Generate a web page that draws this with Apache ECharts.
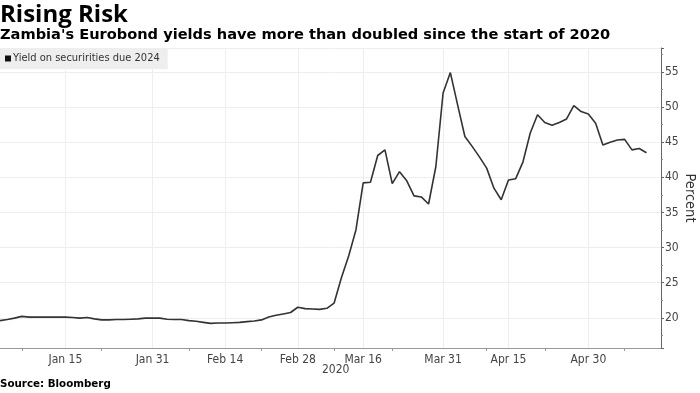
<!DOCTYPE html>
<html><head><meta charset="utf-8">
<script src="https://cdn.jsdelivr.net/npm/echarts@6/dist/echarts.min.js"></script>
<style>html,body{margin:0;padding:0;background:#fff}#c{width:700px;height:393px}</style>
</head><body><div id="c"></div>
<script>
const titleText = "Rising Risk";
const subtitleText = "Zambia's Eurobond yields have more than doubled since the start of 2020";
const seriesName = "Yield on securirities due 2024";
const sourceText = "Source: Bloomberg";
const yearText = "2020";
const axisName = "Percent";

const dates = [
 "Jan 2","Jan 3","Jan 6","Jan 7","Jan 8","Jan 9","Jan 10","Jan 13","Jan 14","Jan 15",
 "Jan 16","Jan 17","Jan 20","Jan 21","Jan 22","Jan 23","Jan 24","Jan 27","Jan 28","Jan 29","Jan 30","Jan 31",
 "Feb 3","Feb 4","Feb 5","Feb 6","Feb 7","Feb 10","Feb 11","Feb 12","Feb 13","Feb 14",
 "Feb 17","Feb 18","Feb 19","Feb 20","Feb 21","Feb 24","Feb 25","Feb 26","Feb 27","Feb 28",
 "Mar 2","Mar 3","Mar 4","Mar 5","Mar 6","Mar 9","Mar 10","Mar 13","Mar 16",
 "Mar 17","Mar 18","Mar 19","Mar 20","Mar 23","Mar 24","Mar 25","Mar 26","Mar 27","Mar 30","Mar 31",
 "Apr 1","Apr 2","Apr 3","Apr 6","Apr 7","Apr 8","Apr 9","Apr 14","Apr 15",
 "Apr 16","Apr 17","Apr 20","Apr 21","Apr 22","Apr 23","Apr 24","Apr 27","Apr 28","Apr 29","Apr 30",
 "May 1","May 4","May 5","May 6","May 7","May 8","May 11","May 12","May 13","May 14"
];

const yields = [
 19.6,19.75,19.95,20.2,20.1,20.1,20.1,20.1,20.1,20.1,
 20.05,19.95,20.05,19.85,19.7,19.7,19.75,19.75,19.8,19.85,19.95,19.95,
 19.95,19.8,19.75,19.75,19.6,19.5,19.35,19.2,19.25,19.25,
 19.3,19.35,19.45,19.55,19.7,20.1,20.35,20.55,20.75,21.5,
 21.3,21.25,21.2,21.35,22.1,25.7,28.8,32.5,39.2,
 39.3,43.1,43.9,39.1,40.8,39.5,37.35,37.2,36.2,41.5,52.0,
 54.9,50.3,45.8,44.4,42.9,41.3,38.45,36.8,39.6,
 39.8,42.2,46.3,48.9,47.8,47.4,47.8,48.3,50.2,49.35,49.0,
 47.7,44.6,45.0,45.3,45.4,43.9,44.1,43.5
];

const labelDates = ["Jan 15","Jan 31","Feb 14","Feb 28","Mar 16","Mar 31","Apr 15","Apr 30"];
const tickDates = ["Jan 7","Jan 22","Feb 7","Feb 21","Mar 6","Mar 20","Apr 8","Apr 22","May 7"];

const yMin = 15.7, yMax = 58.4;

const chart = echarts.init(document.getElementById('c'), null, {renderer:'canvas'});
const condensed = '"DejaVu Sans Condensed", "DejaVu Sans", sans-serif';
chart.setOption({
  animation:false,
  backgroundColor:'#ffffff',
  title:[
    {text:titleText, left:0, top:3, padding:0,
     textStyle:{fontFamily:'"Open Sans", sans-serif', fontWeight:'bold', fontSize:24, color:'#000'}},
    {text:subtitleText, left:0, top:28, padding:0,
     textStyle:{fontFamily:'"DejaVu Sans", sans-serif', fontWeight:'bold', fontSize:14.6, color:'#000'}},
    {text:sourceText, left:0, top:379, padding:0,
     textStyle:{fontFamily:'"DejaVu Sans", sans-serif', fontWeight:'bold', fontSize:10.3, color:'#000'}}
  ],
  graphic:[
    {type:'text', left:322, top:364, style:{text:yearText, font:'12px '+condensed, fill:'#444'}},
    {type:'text', x:690, y:198, rotation:-Math.PI/2,
     style:{text:axisName, font:'14.5px '+condensed, fill:'#333', align:'center', verticalAlign:'middle',
            textAlign:'center', textVerticalAlign:'middle'}}
  ],
  legend:{
    left:0, top:48, padding:[5,8,5,5], itemGap:0,
    backgroundColor:'#eeeeee',
    icon:'rect', itemWidth:6, itemHeight:6,
    textStyle:{fontFamily:condensed, fontSize:11, color:'#333', padding:[0,0,0,-3]},
    data:[seriesName]
  },
  grid:{left:0, right:39, top:48, bottom:45, containLabel:false, outerBoundsMode:'none'},
  xAxis:{
    type:'category', data:dates, boundaryGap:false,
    axisLine:{show:true, lineStyle:{color:'#999', width:1}},
    axisTick:{show:true, length:3, interval:(i,v)=>tickDates.includes(v), lineStyle:{color:'#999'}},
    axisLabel:{interval:(i,v)=>labelDates.includes(v), margin:6, fontFamily:condensed, fontSize:12, color:'#444'},
    splitLine:{show:true, interval:(i,v)=>labelDates.includes(v), lineStyle:{color:'#eeeeee', width:1}}
  },
  yAxis:{
    type:'value', position:'right', min:yMin, max:yMax, splitNumber:8,
    axisLine:{show:true, lineStyle:{color:'#666', width:1}},
    axisTick:{show:true, inside:false, length:3, lineStyle:{color:'#666'}},
    minorTick:{show:true, splitNumber:2, length:2, lineStyle:{color:'#888'}},
    axisLabel:{showMinLabel:false, showMaxLabel:false, margin:4, fontFamily:condensed, fontSize:12, color:'#444'},
    splitLine:{show:true, lineStyle:{color:'#eeeeee', width:1}}
  },
  series:[{
    name:seriesName, type:'line', data:yields, showSymbol:false, symbol:'none',
    lineStyle:{color:'#333333', width:1.6}, itemStyle:{color:'#111'}
  }]
});
</script></body></html>
